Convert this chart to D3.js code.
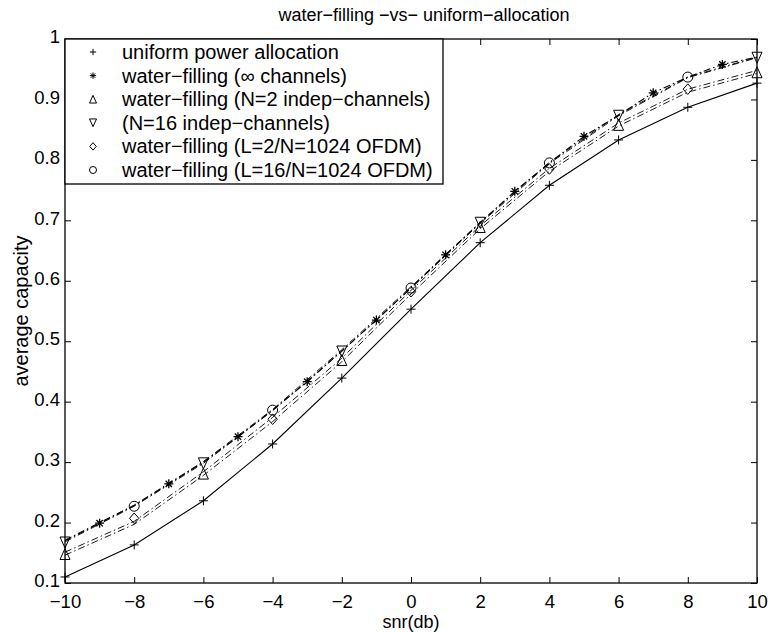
<!DOCTYPE html>
<html>
<head>
<meta charset="utf-8">
<script src="https://cdn.jsdelivr.net/npm/d3@7"></script>
<style>
  body { margin: 0; background: #fff; }
  svg text { font-family: "Liberation Sans", Arial, Helvetica, sans-serif; fill: #000; }
</style>
</head>
<body>
<div id="chart"></div>
<script>
// markers
var snrEven = [-10, -8, -6, -4, -2, 0, 2, 4, 6, 8, 10];
var snrOdd = [-9, -7, -5, -3, -1, 1, 3, 5, 7, 9];
var snrQuad = [-10, -6, -2, 2, 6, 10];
var snrOfdm = [-8, -4, 0, 4, 8];
var snrAll = d3.range(-10, 11);

var uniform = [0.110, 0.163, 0.236, 0.330, 0.439, 0.553, 0.663, 0.758, 0.833, 0.887, 0.927];
var wfInf = [0.199, 0.264, 0.342, 0.433, 0.535, 0.643, 0.748, 0.839, 0.911, 0.958];
var wfN2 = [0.148, 0.281, 0.469, 0.689, 0.858, 0.945];
var wfN16 = [0.167, 0.298, 0.483, 0.696, 0.873, 0.969];
var wfL2 = [0.207, 0.371, 0.582, 0.785, 0.917];
var wfL16 = [0.227, 0.386, 0.588, 0.795, 0.937];

// the dash-dot lines
var lineInf = [0.170, 0.199, 0.228, 0.264, 0.300, 0.342, 0.386, 0.433, 0.484, 0.535, 0.588,
               0.643, 0.696, 0.748, 0.795, 0.839, 0.874, 0.911, 0.937, 0.958, 0.970];
var lineN16 = [0.168, 0.227, 0.298, 0.385, 0.483, 0.588, 0.695, 0.794, 0.873, 0.936, 0.969];
var lineL16 = [0.171, 0.229, 0.301, 0.387, 0.486, 0.590, 0.697, 0.796, 0.875, 0.937, 0.970];
var lineN2 = [0.146, 0.197, 0.278, 0.367, 0.466, 0.578, 0.686, 0.781, 0.856, 0.912, 0.943];
var lineL2 = [0.151, 0.202, 0.284, 0.374, 0.472, 0.584, 0.691, 0.786, 0.861, 0.917, 0.948];

var xTicks = [-10, -8, -6, -4, -2, 0, 2, 4, 6, 8, 10];
var yTicks = [0.1, 0.2, 0.3, 0.4, 0.5, 0.6, 0.7, 0.8, 0.9, 1];

var legendLabels = [
  "uniform power allocation",
  "water\u2212filling (\u221e channels)",
  "water\u2212filling (N=2 indep\u2212channels)",
  "(N=16 indep\u2212channels)",
  "water\u2212filling (L=2/N=1024 OFDM)",
  "water\u2212filling (L=16/N=1024 OFDM)"
];
var legendMarkers = ["plus", "star", "up", "down", "diamond", "circle"];

var width = 770, height = 632;
var margin = {top: 39, right: 13, bottom: 49, left: 65};
var w = width - margin.left - margin.right;
var h = height - margin.top - margin.bottom;

var svg = d3.select("#chart").append("svg")
    .attr("width", width)
    .attr("height", height);

var g = svg.append("g")
    .attr("transform", "translate(" + margin.left + "," + margin.top + ")");

var x = d3.scaleLinear().domain([-10, 10]).range([0, w]);
var y = d3.scaleLinear().domain([0.1, 1]).range([h, 0]);

var minus = function(v) { return String(v).replace("-", "\u2212"); };

// axes, ticks pointing inwards on all four sides
g.append("g")
    .attr("transform", "translate(0," + h + ")")
    .call(d3.axisBottom(x).tickValues(xTicks).tickSize(-6).tickPadding(11.8).tickFormat(minus))
    .call(function(a) { a.select(".domain").remove(); });
g.append("g")
    .call(d3.axisTop(x).tickValues(xTicks).tickSize(-6).tickFormat(""))
    .call(function(a) { a.select(".domain").remove(); });
g.append("g")
    .attr("class", "yaxis")
    .call(d3.axisLeft(y).tickValues(yTicks).tickSize(-6).tickPadding(5).tickFormat(d3.format("")))
    .call(function(a) { a.select(".domain").remove(); });
g.append("g")
    .attr("transform", "translate(" + w + ",0)")
    .call(d3.axisRight(y).tickValues(yTicks).tickSize(-6).tickFormat(""))
    .call(function(a) { a.select(".domain").remove(); });

g.selectAll(".tick line").attr("stroke", "#000").attr("stroke-width", 1);
g.selectAll(".tick text").style("font-size", "18.5px");
g.selectAll(".yaxis .tick text").attr("dy", "0.2em");

g.append("rect")
    .attr("width", w).attr("height", h)
    .attr("fill", "none").attr("stroke", "#000").attr("stroke-width", 1.3);

// lines
function drawLine(xs, ys, dash, sw) {
  var pts = xs.map(function(d, i) { return [d, ys[i]]; });
  g.append("path")
      .datum(pts)
      .attr("fill", "none")
      .attr("stroke", "#000")
      .attr("stroke-width", sw)
      .attr("stroke-dasharray", dash)
      .attr("d", d3.line().x(function(d) { return x(d[0]); }).y(function(d) { return y(d[1]); }));
}
var dashDot = "7,3,1.5,3";
drawLine(snrEven, uniform, null, 1.1);
drawLine(snrAll, lineInf, dashDot, 1.1);
drawLine(snrEven, lineN16, dashDot, 0.9);
drawLine(snrEven, lineL16, dashDot, 0.9);
drawLine(snrEven, lineN2, dashDot, 0.9);
drawLine(snrEven, lineL2, dashDot, 0.9);

// marker shapes
function markerPath(type, s) {
  var p = d3.path();
  if (type == "plus") {
    p.moveTo(-4.5 * s, 0); p.lineTo(4.5 * s, 0);
    p.moveTo(0, -4.5 * s); p.lineTo(0, 4.5 * s);
  } else if (type == "star") {
    var r = 4.5 * s, q = r * 0.707;
    p.moveTo(-r, 0); p.lineTo(r, 0);
    p.moveTo(0, -r); p.lineTo(0, r);
    p.moveTo(-q, -q); p.lineTo(q, q);
    p.moveTo(-q, q); p.lineTo(q, -q);
  } else if (type == "up") {
    p.moveTo(0, -5.5 * s); p.lineTo(5 * s, 5.5 * s); p.lineTo(-5 * s, 5.5 * s); p.closePath();
  } else if (type == "down") {
    p.moveTo(0, 5.5 * s); p.lineTo(5 * s, -5.5 * s); p.lineTo(-5 * s, -5.5 * s); p.closePath();
  } else if (type == "diamond") {
    p.moveTo(0, -5.3 * s); p.lineTo(4.7 * s, 0); p.lineTo(0, 5.3 * s); p.lineTo(-4.7 * s, 0); p.closePath();
  } else if (type == "circle") {
    p.arc(0, 0, 5 * s, 0, 2 * Math.PI);
  }
  return p.toString();
}

function drawMarkers(xs, ys, type) {
  g.append("g").selectAll("path")
      .data(xs.map(function(d, i) { return [d, ys[i]]; }))
      .enter().append("path")
      .attr("transform", function(d) { return "translate(" + x(d[0]) + "," + y(d[1]) + ")"; })
      .attr("d", markerPath(type, 1))
      .attr("fill", "none")
      .attr("stroke", "#000")
      .attr("stroke-width", type == "star" ? 1.3 : 1);
}
drawMarkers(snrEven, uniform, "plus");
drawMarkers(snrOdd, wfInf, "star");
drawMarkers(snrQuad, wfN2, "up");
drawMarkers(snrQuad, wfN16, "down");
drawMarkers(snrOfdm, wfL2, "diamond");
drawMarkers(snrOfdm, wfL16, "circle");

// legend in the top-left corner
var legendW = 378, legendH = 145, rowH = 23.6;
var legend = g.append("g");
legend.append("rect")
    .attr("width", legendW).attr("height", legendH)
    .attr("fill", "#fff").attr("stroke", "#000").attr("stroke-width", 1.3);
var item = legend.selectAll(".item")
    .data(legendLabels)
    .enter().append("g")
    .attr("class", "item")
    .attr("transform", function(d, i) { return "translate(0," + (13 + i * rowH) + ")"; });
item.append("path")
    .attr("transform", "translate(28,0)")
    .attr("d", function(d, i) { return markerPath(legendMarkers[i], 0.7); })
    .attr("fill", "none").attr("stroke", "#000").attr("stroke-width", 1);
item.append("text")
    .attr("x", 57)
    .attr("dy", "0.35em")
    .style("font-size", "20px")
    .text(function(d) { return d; });

// titles
svg.append("text")
    .attr("x", 424).attr("y", 21)
    .attr("text-anchor", "middle")
    .style("font-size", "18px")
    .text("water\u2212filling \u2212vs\u2212 uniform\u2212allocation");
svg.append("text")
    .attr("x", margin.left + w / 2).attr("y", 628.2)
    .attr("text-anchor", "middle")
    .style("font-size", "18px")
    .text("snr(db)");
svg.append("text")
    .attr("transform", "translate(28," + (margin.top + h / 2) + ") rotate(-90)")
    .attr("text-anchor", "middle")
    .style("font-size", "20px")
    .text("average capacity");
</script>
</body>
</html>
